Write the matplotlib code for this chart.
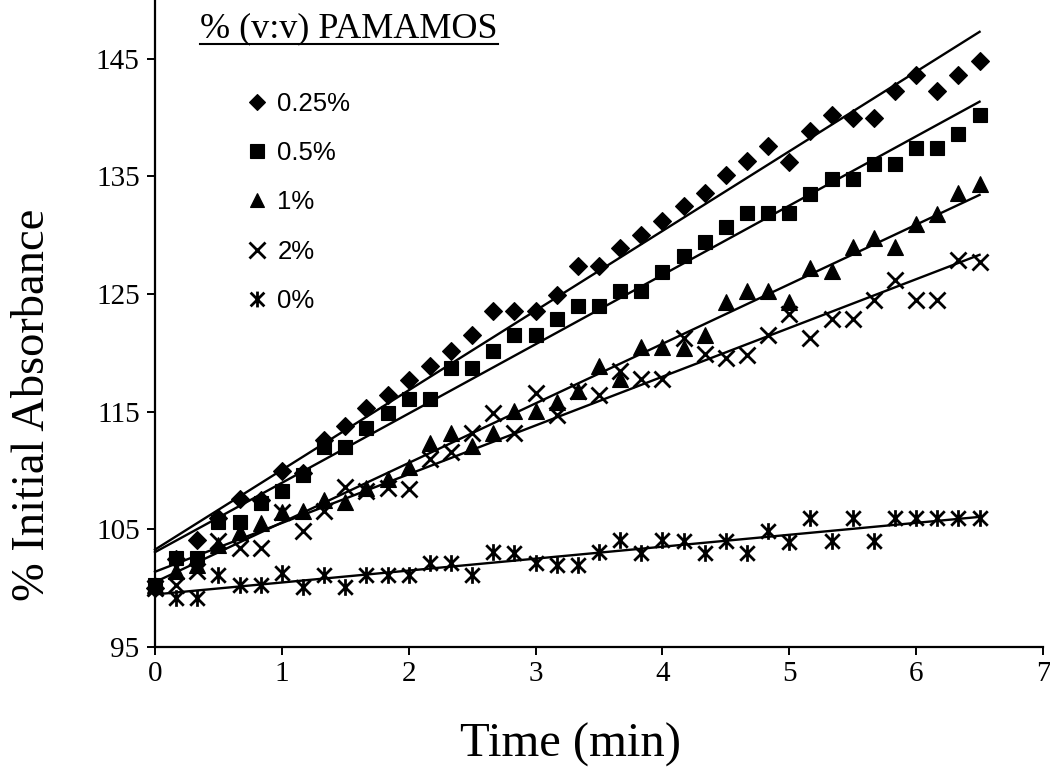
import numpy as np
import matplotlib
matplotlib.use("Agg")
import matplotlib.pyplot as plt
from matplotlib.path import Path
from matplotlib.lines import Line2D

# ---- data -------------------------------------------------------------
time_min = [0.0, 0.167, 0.333, 0.5, 0.667, 0.833, 1.0, 1.167, 1.333, 1.5,
            1.667, 1.833, 2.0, 2.167, 2.333, 2.5, 2.667, 2.833, 3.0, 3.167,
            3.333, 3.5, 3.667, 3.833, 4.0, 4.167, 4.333, 4.5, 4.667, 4.833,
            5.0, 5.167, 5.333, 5.5, 5.667, 5.833, 6.0, 6.167, 6.333, 6.5]

pct_025 = [100, 102.5, 104.1, 106, 107.6, 107.5, 110, 109.8, 112.6, 113.8,
           115.3, 116.4, 117.7, 118.9, 120.2, 121.5, 123.6, 123.6, 123.6, 124.9,
           127.4, 127.4, 128.9, 130, 131.2, 132.5, 133.6, 135.1, 136.3, 137.6,
           136.2, 138.9, 140.2, 140, 140, 142.3, 143.6, 142.3, 143.6, 144.8]

pct_05 = [100.3, 102.6, 102.6, 105.6, 105.6, 107.2, 108.3, 109.6, 112, 112,
          113.6, 114.9, 116.1, 116.1, 118.7, 118.7, 120.2, 121.5, 121.5, 122.9,
          124, 124, 125.3, 125.3, 126.9, 128.2, 129.4, 130.7, 131.9, 131.9,
          131.9, 133.5, 134.8, 134.8, 136.1, 136.1, 137.4, 137.4, 138.6, 140.2]

pct_1 = [100.3, 101.5, 102, 103.7, 104.8, 105.5, 106.5, 106.6, 107.5, 107.3,
         108.5, 109.3, 110.3, 112.3, 113.2, 112.1, 113.2, 115.1, 115.1, 115.8,
         116.8, 118.9, 117.8, 120.5, 120.5, 120.4, 121.5, 124.3, 125.3, 125.3,
         124.3, 127.2, 127, 129, 129.8, 129, 131, 131.8, 133.6, 134.4]

pct_2 = [100, 100.3, 101.5, 104, 103.4, 103.4, 106.5, 104.9, 106.6, 108.6,
         108.3, 108.5, 108.4, 111, 111.6, 113.2, 114.9, 113.2, 116.6, 114.7,
         116.8, 116.4, 118.5, 117.8, 117.8, 121.3, 119.9, 119.6, 119.8, 121.5,
         123.3, 121.3, 122.9, 122.9, 124.5, 126.2, 124.5, 124.5, 127.9, 127.7]

pct_0 = [100, 99.2, 99.2, 101.1, 100.3, 100.3, 101.3, 100.1, 101.1, 100.1,
         101.1, 101.1, 101.1, 102.1, 102.1, 101.1, 103.1, 103, 102.1, 102,
         102, 103.1, 104.1, 103, 104.1, 104, 103, 104, 103, 104.9,
         103.9, 106, 104, 106, 104, 106, 106, 106, 106, 106]

series_labels = ["0.25%", "0.5%", "1%", "2%", "0%"]
legend_title = "% (v:v) PAMAMOS"
x_ticks = [0, 1, 2, 3, 4, 5, 6, 7]
y_ticks = [95, 105, 115, 125, 135, 145]

# ---- styling ----------------------------------------------------------
serif = "Liberation Serif"
sans = "Liberation Sans"

star = Path([(-1, -1), (1, 1), (-1, 1), (1, -1), (0, -1.15), (0, 1.15)],
            [Path.MOVETO, Path.LINETO, Path.MOVETO, Path.LINETO,
             Path.MOVETO, Path.LINETO])

styles = [
    dict(marker="D", ms=8.8, mew=0.8),
    dict(marker="s", ms=10.2, mew=0.8),
    dict(marker="^", ms=11.0, mew=0.8),
    dict(marker="x", ms=11.5, mew=2.0),
    dict(marker=star, ms=12.0, mew=2.0),
]

fig = plt.figure(figsize=(10.5, 7.76), dpi=100)
L, R, B, T = 155, 1043, 647, 0
ax = fig.add_axes([L / 1050, 1 - B / 776, (R - L) / 1050, (B - T) / 776])

all_series = [pct_025, pct_05, pct_1, pct_2, pct_0]
x = np.array(time_min)
handles = []
for vals, lab, st in zip(all_series, series_labels, styles):
    v = np.array(vals, dtype=float)
    h, = ax.plot(x, v, linestyle="none", marker=st["marker"],
                 markersize=st["ms"], markerfacecolor="black",
                 markeredgecolor="black", markeredgewidth=st["mew"],
                 clip_on=False, zorder=3, label=lab)
    handles.append(h)
for vals in all_series:
    v = np.array(vals, dtype=float)
    k, b = np.polyfit(x, v, 1)
    xx = np.array([x[0], x[-1]])
    ax.plot(xx, k * xx + b, color="black", lw=1.7, zorder=4, clip_on=False)

ax.set_xlim(0, 7)
ax.set_ylim(95, 150)
ax.set_xticks(x_ticks)
ax.set_yticks(y_ticks)
ax.set_xticklabels([str(t) for t in x_ticks])
ax.set_yticklabels([str(t) for t in y_ticks])
for s in ["top", "right"]:
    ax.spines[s].set_visible(False)
for s in ["left", "bottom"]:
    ax.spines[s].set_linewidth(1.6)
    ax.spines[s].set_color("black")
ax.tick_params(axis="both", direction="out", length=6, width=1.4,
               colors="black", labelsize=21)
ax.tick_params(axis="x", pad=4)
ax.tick_params(axis="y", pad=5)
for lbl in ax.get_xticklabels() + ax.get_yticklabels():
    lbl.set_fontfamily(serif)

ax.set_xlabel("Time (min)", fontsize=35, fontfamily=serif)
ax.set_ylabel("% Initial Absorbance", fontsize=33.5, fontfamily=serif)
ax.xaxis.set_label_coords((571 - L) / (R - L), (B - 745) / (B - T))
ax.xaxis.label.set_va("center")
ax.yaxis.set_label_coords((33 - L) / (R - L), (B - 405) / (B - T))
ax.yaxis.label.set_va("center")

# legend title with underline
fig.text(200 / 1050, 1 - 29 / 776, legend_title, fontsize=26,
         fontfamily=serif, ha="left", va="center")
fig.add_artist(Line2D([200 / 1050, 498 / 1050], [1 - 44 / 776, 1 - 44 / 776],
                      color="black", lw=1.5, transform=fig.transFigure))

leg = ax.legend(handles=handles, labels=series_labels, loc="upper left",
                bbox_to_anchor=(244 / 1050, 1 - 92 / 776),
                bbox_transform=fig.transFigure, frameon=False,
                prop={"family": sans, "size": 18.5}, handlelength=1.0,
                handletextpad=0.3, labelspacing=0.98, borderpad=0,
                borderaxespad=0, markerscale=0.95)

fig.savefig("out.png", dpi=100)
